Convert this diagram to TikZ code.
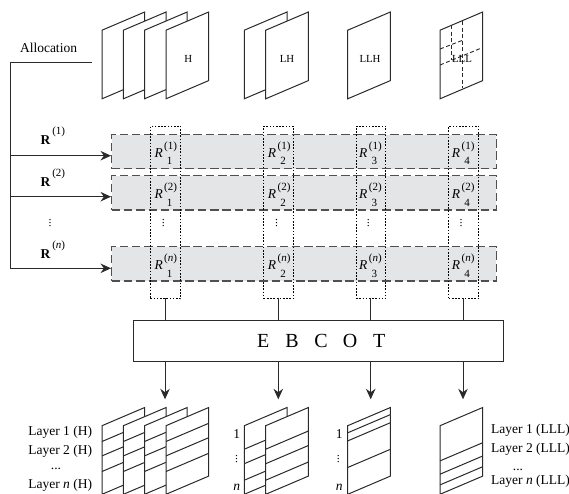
\documentclass[tikz,border=0pt]{standalone}
\usepackage{fontspec}
\setmainfont{Liberation Serif}
\usetikzlibrary{arrows.meta}
\definecolor{barfill}{HTML}{E4E5E7}
\definecolor{barline}{HTML}{505050}
\definecolor{ink}{HTML}{2A2A2A}
\newcommand{\fs}[1]{\fontsize{#1}{#1}\selectfont}
\newcommand{\drawsheet}[3]{%
  \draw[sheetline,fill=white] (#1,{#2+18.2}) -- ({#1+42.7},#2) -- ({#1+42.7},{#2+68.6}) -- (#1,{#2+86.8}) -- cycle;
  \foreach \yr in {#3} {\draw[sheetline] (#1,{\yr+18.2}) -- ({#1+42.7},\yr);}%
}
\newcommand{\bigR}[1]{\textbf{R}\hspace{1.7pt}\raisebox{10pt}{\fs{11}(#1)}}
\newcommand{\cellR}[2]{\textit{R}\hspace{1.5pt}\rlap{\raisebox{8.5pt}{\fs{11}(#2)}}\rlap{\hspace{2.7pt}\raisebox{-7.3pt}{\fs{11}#1}}\phantom{\fs{11}(1)}}
\tikzset{
  sheetline/.style={draw=ink,line width=1pt,line join=miter},
  barbox/.style={draw=barline,fill=barfill,line width=1.2pt,dash pattern=on 8.5pt off 3.8pt,minimum width=384.7pt,minimum height=34.3pt,inner sep=0pt,anchor=north west},
  colbox/.style={draw=black,line width=0.9pt,dash pattern=on 1.6pt off 1.6pt,minimum height=172.6pt,inner sep=0pt,anchor=north west},
  ebox/.style={draw=ink,line width=1pt,fill=white,minimum width=370.3pt,minimum height=41.3pt,inner sep=0pt,anchor=north west},
  wire/.style={draw=ink,line width=1pt},
  arrowwire/.style={wire,-{Stealth[length=10.5pt,width=9.5pt]}},
  splitline/.style={draw=ink,line width=0.9pt,dash pattern=on 4pt off 2.5pt},
  txt/.style={inner sep=0pt,font=\fs{13.5}},
  small/.style={inner sep=0pt,font=\fs{10.8},anchor=center},
  dots/.style={inner sep=0pt,font=\fs{11.5},anchor=center,rotate=90},
}
\begin{document}
\begin{tikzpicture}[x=1pt,y=-1pt]
\useasboundingbox (0,0) rectangle (569,494);

% top sheets
\drawsheet{102}{12}{}
\drawsheet{123.4}{12}{}
\drawsheet{144.5}{12}{}
\drawsheet{166}{12}{}
\drawsheet{244.3}{12}{}
\drawsheet{265.7}{12}{}
\drawsheet{347.7}{12}{}
\drawsheet{440}{12}{}
\draw[splitline] (462,21.5) -- (462,88.5);
\draw[splitline] (440,65) -- (482.7,47.5);
\draw[splitline] (451.7,25.5) -- (451.7,60);
\draw[splitline] (440,49) -- (462,40.5);
\node[small] (lh) at (188.3,59) {H};
\node[small] (llh) at (287,59) {LH};
\node[small] (lllh) at (370,59) {LLH};
\node[small] (llll) at (462,59) {LLL};

% rate bars
\node[barbox] (bar1) at (111,134) {};
\node[barbox] (bar2) at (111,175) {};
\node[barbox] (bar3) at (111,246) {};

% allocation
\node[txt,anchor=base] (alloc) at (48.5,53) {Allocation};
\coordinate (allocend) at (91.7,63);
\coordinate (corner) at (10,63);
\coordinate (j1) at (10,155.7);
\coordinate (j2) at (10,196.7);
\coordinate (j3) at (10,268.3);
\draw[wire] (allocend) -- (corner) -- (j3);
\foreach \k in {1,2,3}{
  \draw[arrowwire] (j\k) -- (j\k -| bar\k.west);
}
\node[txt,anchor=base west] (r1) at (40.5,145) {\bigR{1}};
\node[txt,anchor=base west] (r2) at (40.5,186.5) {\bigR{2}};
\node[txt,anchor=base west] (r3) at (40.5,258.3) {\bigR{\textit{n}}};
\node[dots] (rd) at (50,223) {...};

% dotted columns
\node[colbox,minimum width=30.3pt] (col1) at (150,125.7) {};
\node[colbox,minimum width=29.4pt] (col2) at (263.3,125.7) {};
\node[colbox,minimum width=29.6pt] (col3) at (355.7,125.7) {};
\node[colbox,minimum width=30pt] (col4) at (448.3,125.7) {};

% cell labels
\foreach \c/\x/\dx in {1/154.3/163.3,2/267.7/276.7,3/359/368.3,4/451.7/461}{
  \node[txt,anchor=base west] (c\c a) at (\x,157.7) {\cellR{\c}{1}};
  \node[txt,anchor=base west] (c\c b) at (\x,198.7) {\cellR{\c}{2}};
  \node[txt,anchor=base west] (c\c c) at (\x,269.7) {\cellR{\c}{\textit{n}}};
  \node[dots] (c\c d) at (\dx,223) {...};
}

% EBCOT
\node[ebox] (ebcot) at (133,320) {\hspace{5pt}\fs{20}\makebox[29pt]{E}\makebox[29pt]{B}\makebox[29pt]{C}\makebox[29pt]{O}\makebox[29pt]{T}};

% outputs
\coordinate (o1) at (165,399.3);
\coordinate (o2) at (278.3,399.3);
\coordinate (o3) at (370.7,399.3);
\coordinate (o4) at (463,399.3);
\coordinate (i1) at (165,298.3);
\coordinate (i2) at (278.3,298.3);
\coordinate (i3) at (370.7,298.3);
\coordinate (i4) at (463,298.3);
\foreach \k in {1,2,3,4}{
  \draw[wire] (i\k) -- (i\k |- ebcot.north);
  \draw[arrowwire] (i\k |- ebcot.south) -- (o\k);
}

% bottom sheets
\drawsheet{102}{407.5}{423.3,437.7,453.3}
\drawsheet{123.4}{407.5}{423.3,437.7,453.3}
\drawsheet{144.5}{407.5}{423.3,437.7,453.3}
\drawsheet{166}{407.5}{423.3,437.7,453.3}
\drawsheet{244.3}{407.5}{431,445.5,462}
\drawsheet{265.7}{407.5}{431,445.5,462}
\drawsheet{347.7}{407.5}{414.6,422.7,449.3}
\drawsheet{440}{407.5}{442.7,456,466.7}

% bottom labels
\node[txt,anchor=base east] (b1) at (92.3,435) {Layer 1 (H)};
\node[txt,anchor=base east] (b2) at (92.3,454.3) {Layer 2 (H)};
\node[txt,anchor=base] (b3) at (56,469) {...};
\node[txt,anchor=base east] (b4) at (92.3,488) {Layer \textit{n} (H)};
\node[txt,anchor=base west] (d1) at (491,433.3) {Layer 1 (LLL)};
\node[txt,anchor=base west] (d2) at (491,452.7) {Layer 2 (LLL)};
\node[txt,anchor=base] (d3) at (518,470) {...};
\node[txt,anchor=base west] (d4) at (491,484) {Layer \textit{n} (LLL)};
\node[txt,anchor=base] (e1) at (236.7,438.3) {1};
\node[dots] (e2) at (236.7,459) {...};
\node[txt,anchor=base] (e3) at (236.7,490) {\textit{n}};
\node[txt,anchor=base] (f1) at (339.3,438.3) {1};
\node[dots] (f2) at (338.3,459) {...};
\node[txt,anchor=base] (f3) at (339.3,490) {\textit{n}};
\end{tikzpicture}
\end{document}
